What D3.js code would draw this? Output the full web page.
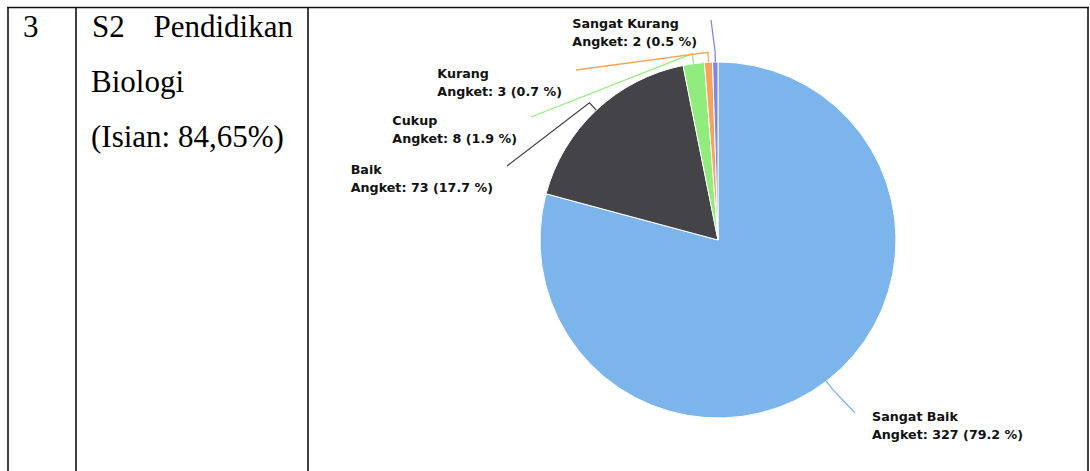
<!DOCTYPE html>
<html>
<head>
<meta charset="utf-8">
<script src="https://cdn.jsdelivr.net/npm/d3@7"></script>
<style>
    body { margin: 0; background: #fff; }
    svg { display: block; }
    .cell-text { font-family: "Liberation Serif", "Times New Roman", serif; font-size: 31px; fill: #000; }
    .pie-label { font-family: "DejaVu Sans", sans-serif; font-size: 12.7px; font-weight: bold; fill: #111; }
</style>
</head>
<body>
<div class="chart"></div>
<script>
// data
var categories = ['Sangat Baik', 'Baik', 'Cukup', 'Kurang', 'Sangat Kurang'];
var counts = [327, 73, 8, 3, 2];
var percents = ['79.2', '17.7', '1.9', '0.7', '0.5'];
var colors = ['#7cb5ec', '#434348', '#90ed7d', '#f7a35c', '#8085e9'];

// left cells of the table row
var rowNumber = '3';
var programLines = ['Biologi', '(Isian: 84,65%)'];

// where each connector ends, relative to the pie centre
var labelAnchors = [[137, 173], [-211, -74], [-187, -123], [-142, -170], [-7, -220]];

draw();

function draw() {
    var width = 1090;
    var height = 471;

    var svg = d3.select('.chart')
        .append('svg')
        .attr('width', width)
        .attr('height', height);

    // table borders
    var borders = svg.append('g')
        .attr('stroke', '#111')
        .attr('stroke-width', 1.6);

    borders.append('line')
        .attr('x1', 7).attr('x2', 1089)
        .attr('y1', 7.5).attr('y2', 7.5);

    [8, 76, 308, 1088].forEach(function (x) {
        borders.append('line')
            .attr('x1', x).attr('x2', x)
            .attr('y1', 7).attr('y2', height);
    });

    svg.append('text')
        .attr('class', 'cell-text')
        .attr('x', 23)
        .attr('y', 37)
        .text(rowNumber);

    svg.append('text')
        .attr('class', 'cell-text')
        .attr('x', 92)
        .attr('y', 37)
        .text('S2');

    svg.append('text')
        .attr('class', 'cell-text')
        .attr('x', 293)
        .attr('y', 37)
        .attr('text-anchor', 'end')
        .text('Pendidikan');

    programLines.forEach(function (line, i) {
        svg.append('text')
            .attr('class', 'cell-text')
            .attr('x', 91)
            .attr('y', 92 + i * 55)
            .text(line);
    });

    // pie
    var cx = 718;
    var cy = 240;
    var radius = 178;

    var pieData = categories.map(function (c, i) {
        return { label: c, value: counts[i], pct: percents[i], color: colors[i], anchor: labelAnchors[i] };
    });

    var pie = d3.pie()
        .value(function (d) { return d.value; })
        .sort(null);

    var arc = d3.arc()
        .innerRadius(0)
        .outerRadius(radius);

    var g = svg.append('g')
        .attr('transform', 'translate(' + cx + ',' + cy + ')');

    var slices = pie(pieData);

    g.selectAll('path.slice')
        .data(slices)
        .enter()
        .append('path')
        .attr('class', 'slice')
        .attr('d', arc)
        .attr('fill', function (d) { return d.data.color; })
        .attr('stroke', '#fff')
        .attr('stroke-width', 1);

    // connectors
    var line = d3.line();
    g.selectAll('path.connector')
        .data(slices)
        .enter()
        .append('path')
        .attr('class', 'connector')
        .attr('fill', 'none')
        .attr('stroke', function (d) { return d.data.color; })
        .attr('stroke-width', 1.3)
        .attr('d', function (d) {
            var a = (d.startAngle + d.endAngle) / 2;
            var sx = Math.sin(a), sy = -Math.cos(a);
            return line([
                [sx * radius, sy * radius],
                [sx * (radius + 10), sy * (radius + 10)],
                d.data.anchor
            ]);
        });

    // labels
    var labels = g.selectAll('g.label')
        .data(slices)
        .enter()
        .append('g')
        .attr('class', 'label');

    labels.each(function (d) {
        var grp = d3.select(this);
        var t = grp.append('text')
            .attr('class', 'pie-label');
        t.append('tspan')
            .attr('x', 0)
            .attr('y', 0)
            .text(d.data.label);
        t.append('tspan')
            .attr('x', 0)
            .attr('y', 18)
            .text('Angket: ' + d.data.value + ' (' + d.data.pct + ' %)');

        var w = t.node().getBBox().width;
        var ax = d.data.anchor[0];
        var ay = d.data.anchor[1];
        var right = ax > 0;
        var x = right ? ax + 17 : ax - 14 - w;
        grp.attr('transform', 'translate(' + x + ',' + (ay + 8) + ')');
    });
}
</script>
</body>
</html>
